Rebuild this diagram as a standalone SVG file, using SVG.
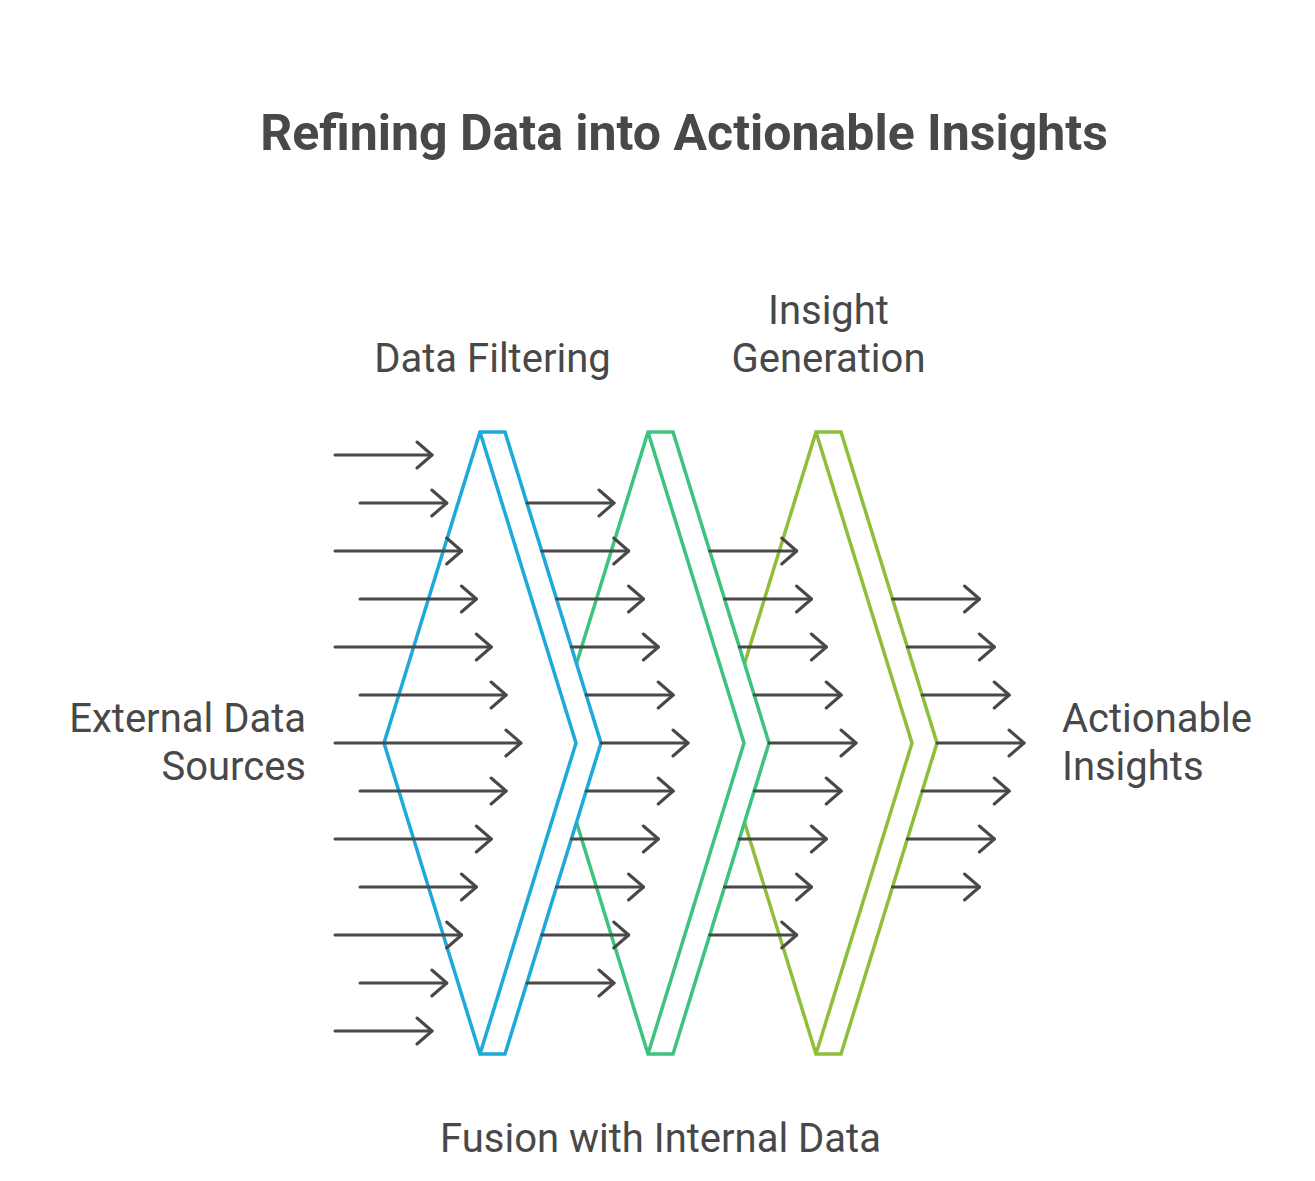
<svg xmlns="http://www.w3.org/2000/svg" width="1315" height="1181" viewBox="0 0 1315 1181">
<defs>
<style>
.t{font-family:Roboto,"Liberation Sans",sans-serif;fill:#484848;}
.title{font-size:50px;font-weight:bold;}
.lbl{font-size:40px;}
.ch{fill:#ffffff;stroke-width:3.5;stroke-linejoin:miter;}
.in{fill:none;stroke-width:3.5;stroke-linejoin:miter;}
.blue{stroke:#1EAAD8;}
.green{stroke:#3CC47F;}
.olive{stroke:#8DBF3A;}
.ar{fill:none;stroke:#484848;stroke-width:3;stroke-linecap:round;marker-end:url(#head);}
</style>
<marker id="head" viewBox="-18 -16 20 32" refX="0" refY="0" markerWidth="20" markerHeight="32" markerUnits="userSpaceOnUse" orient="auto">
<path d="M -15 -13 L 0 0 L -15 13" fill="none" stroke="#484848" stroke-width="3" stroke-linecap="round" stroke-linejoin="round"/>
</marker>
</defs>
<rect width="1315" height="1181" fill="#ffffff"/>
<g id="title"><text class="t title" x="684" y="150" text-anchor="middle">Refining Data into Actionable Insights</text></g>

<g id="insight-generation">
<polygon class="ch olive" points="720,743 816,432 841,432 937,743 841,1054 816,1054"/>
<polyline class="in olive" points="816,432 912,743 816,1054"/>
</g>
<g id="fusion">
<polygon class="ch green" points="552,743 648,432 673,432 769,743 673,1054 648,1054"/>
<polyline class="in green" points="648,432 744,743 648,1054"/>
</g>
<g id="data-filtering">
<polygon class="ch blue" points="384,743 480,432 505,432 601,743 505,1054 480,1054"/>
<polyline class="in blue" points="480,432 576,743 480,1054"/>
</g>

<g id="connectors">
<line class="ar" x1="335" y1="455" x2="432" y2="455"/>
<line class="ar" x1="360" y1="503" x2="446.8" y2="503"/>
<line class="ar" x1="335" y1="551" x2="461.6" y2="551"/>
<line class="ar" x1="360" y1="599" x2="476.4" y2="599"/>
<line class="ar" x1="335" y1="647" x2="491.3" y2="647"/>
<line class="ar" x1="360" y1="695" x2="506.1" y2="695"/>
<line class="ar" x1="335" y1="743" x2="520.9" y2="743"/>
<line class="ar" x1="360" y1="791" x2="506.1" y2="791"/>
<line class="ar" x1="335" y1="839" x2="491.3" y2="839"/>
<line class="ar" x1="360" y1="887" x2="476.4" y2="887"/>
<line class="ar" x1="335" y1="935" x2="461.6" y2="935"/>
<line class="ar" x1="360" y1="983" x2="446.8" y2="983"/>
<line class="ar" x1="335" y1="1031" x2="432" y2="1031"/>

<line class="ar" x1="526.9" y1="503" x2="614" y2="503"/>
<line class="ar" x1="541.7" y1="551" x2="628.7" y2="551"/>
<line class="ar" x1="556.5" y1="599" x2="643.5" y2="599"/>
<line class="ar" x1="571.4" y1="647" x2="658.4" y2="647"/>
<line class="ar" x1="586.2" y1="695" x2="673.2" y2="695"/>
<line class="ar" x1="601" y1="743" x2="688" y2="743"/>
<line class="ar" x1="586.2" y1="791" x2="673.2" y2="791"/>
<line class="ar" x1="571.4" y1="839" x2="658.4" y2="839"/>
<line class="ar" x1="556.5" y1="887" x2="643.5" y2="887"/>
<line class="ar" x1="541.7" y1="935" x2="628.7" y2="935"/>
<line class="ar" x1="526.9" y1="983" x2="614" y2="983"/>

<line class="ar" x1="709.7" y1="551" x2="796.7" y2="551"/>
<line class="ar" x1="724.5" y1="599" x2="811.5" y2="599"/>
<line class="ar" x1="739.4" y1="647" x2="826.4" y2="647"/>
<line class="ar" x1="754.2" y1="695" x2="841.2" y2="695"/>
<line class="ar" x1="769" y1="743" x2="856" y2="743"/>
<line class="ar" x1="754.2" y1="791" x2="841.2" y2="791"/>
<line class="ar" x1="739.4" y1="839" x2="826.4" y2="839"/>
<line class="ar" x1="724.5" y1="887" x2="811.5" y2="887"/>
<line class="ar" x1="709.7" y1="935" x2="796.7" y2="935"/>

<line class="ar" x1="892.5" y1="599" x2="979.5" y2="599"/>
<line class="ar" x1="907.4" y1="647" x2="994.4" y2="647"/>
<line class="ar" x1="922.2" y1="695" x2="1009.2" y2="695"/>
<line class="ar" x1="937" y1="743" x2="1024" y2="743"/>
<line class="ar" x1="922.2" y1="791" x2="1009.2" y2="791"/>
<line class="ar" x1="907.4" y1="839" x2="994.4" y2="839"/>
<line class="ar" x1="892.5" y1="887" x2="979.5" y2="887"/>
</g>

<g id="label-data-filtering"><text class="t lbl" x="492.5" y="372" text-anchor="middle">Data Filtering</text></g>
<g id="label-insight-generation"><text class="t lbl" x="828.5" y="324" text-anchor="middle"><tspan x="828.5">Insight</tspan><tspan x="828.5" dy="48">Generation</tspan></text></g>
<g id="label-external"><text class="t lbl" x="306" y="732" text-anchor="end"><tspan x="306">External Data</tspan><tspan x="306" dy="48">Sources</tspan></text></g>
<g id="label-actionable"><text class="t lbl" x="1062" y="732"><tspan x="1062">Actionable</tspan><tspan x="1062" dy="48">Insights</tspan></text></g>
<g id="label-fusion"><text class="t lbl" x="660.5" y="1152" text-anchor="middle">Fusion with Internal Data</text></g>
</svg>
